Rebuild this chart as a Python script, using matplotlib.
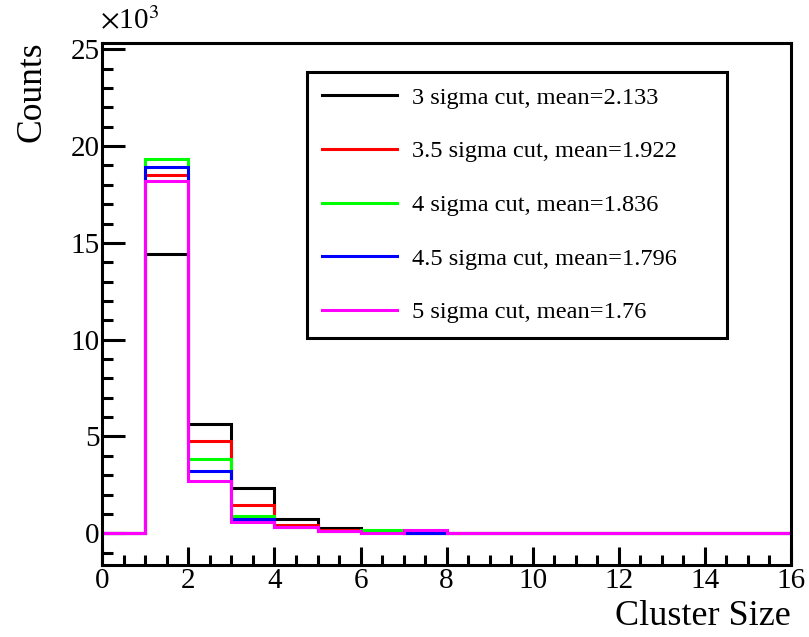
import matplotlib
matplotlib.use("Agg")
import matplotlib.pyplot as plt
import matplotlib.ticker as ticker
import numpy as np

plt.rcParams['font.family'] = ['Liberation Serif', 'DejaVu Serif']
plt.rcParams['mathtext.fontset'] = 'stix'

# cluster size histogram, counts in units of 10^3, one bin per unit size
edges = np.arange(0, 17, 1)
counts_3 = [0, 14.45, 5.63, 2.36, 0.72, 0.29, 0.14, 0.02, 0, 0, 0, 0, 0, 0, 0, 0]
counts_35 = [0, 18.49, 4.74, 1.48, 0.45, 0.15, 0.14, 0.02, 0, 0, 0, 0, 0, 0, 0, 0]
counts_4 = [0, 19.35, 3.86, 0.88, 0.33, 0.14, 0.15, 0.02, 0, 0, 0, 0, 0, 0, 0, 0]
counts_45 = [0, 18.92, 3.24, 0.72, 0.32, 0.13, 0.02, 0.0, 0, 0, 0, 0, 0, 0, 0, 0]
counts_5 = [0, 18.18, 2.69, 0.57, 0.33, 0.14, 0.0, 0.15, 0, 0, 0, 0, 0, 0, 0, 0]

labels = ['3 sigma cut, mean=2.133',
          '3.5 sigma cut, mean=1.922',
          '4 sigma cut, mean=1.836',
          '4.5 sigma cut, mean=1.796',
          '5 sigma cut, mean=1.76']
colors = ['#000000', '#ff0000', '#00ff00', '#0000ff', '#ff00ff']

W, H = 809, 637
fig = plt.figure(figsize=(W / 100, H / 100), dpi=100)
ax = fig.add_axes([102.3 / W, 1 - 565 / H, (791 - 102.3) / W, (565 - 42.7) / H])

lw = 2.2
handles = []
for c, lab, col in zip([counts_3, counts_35, counts_4, counts_45, counts_5], labels, colors):
    ax.stairs(c, edges, color=col, linewidth=lw, label=lab, zorder=3)
    handles.append(plt.Line2D([], [], color=col, linewidth=lw))

ax.set_xlim(0, 16)
ax.set_ylim(-1.64, 25.34)

ax.xaxis.set_major_locator(ticker.MultipleLocator(2))
ax.xaxis.set_minor_locator(ticker.MultipleLocator(0.5))
ax.yaxis.set_major_locator(ticker.MultipleLocator(5))
ax.yaxis.set_minor_locator(ticker.MultipleLocator(1))

ax.tick_params(axis='both', which='both', direction='in', width=2.2,
               labelsize=21, top=False, right=False)
ax.tick_params(axis='x', which='major', length=12.7, pad=2)
ax.tick_params(axis='x', which='minor', length=7)
ax.tick_params(axis='y', which='major', length=16.5, pad=2)
ax.tick_params(axis='y', which='minor', length=8)
for sp in ax.spines.values():
    sp.set_linewidth(2.2)
    sp.set_zorder(4)

ax.set_xlabel('Cluster Size', fontsize=26, loc='right')
ax.xaxis.set_label_coords(1.0, -0.067)
fig.text(15 / W, 1 - 42 / H, 'Counts', rotation=90, ha='left', va='top', fontsize=25.6)
fig.text(100 / W, 1 - 7 / H, r'$\times$10$^{3}$', ha='left', va='top', fontsize=21)

# legend box spans a fixed width, entries stacked from the top
lx0 = (307 - 102.3) / 688.7
lx1 = (727 - 102.3) / 688.7
ltop = (565 - 72) / 522.3
leg = ax.legend(handles, labels, loc='upper left', mode='expand',
                bbox_to_anchor=(lx0, ltop - 0.5, lx1 - lx0, 0.5),
                fontsize=17.6, frameon=True, fancybox=False, framealpha=1,
                handlelength=3.1, handletextpad=0.6, labelspacing=1.29,
                borderpad=0.6, borderaxespad=0)
leg.get_frame().set_edgecolor('black')
leg.get_frame().set_linewidth(2.2)
leg.set_zorder(5)

fig.savefig('out.png', dpi=100)
